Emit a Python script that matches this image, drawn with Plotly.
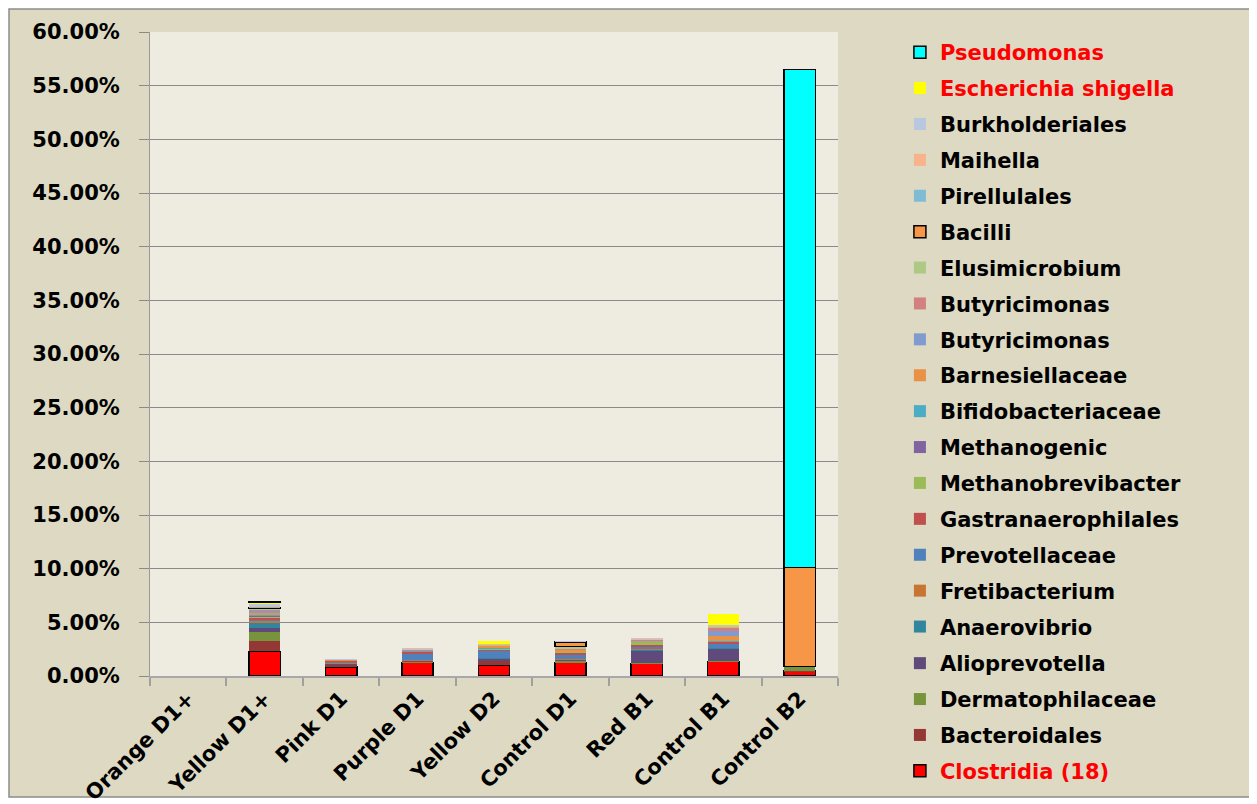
import plotly.graph_objects as go

# Sample names along the x axis
samples = [
    "Orange D1+", "Yellow D1+", "Pink D1", "Purple D1", "Yellow D2",
    "Control D1", "Red B1", "Control B1", "Control B2",
]

# Relative abundance (%) per taxon, stacked bottom -> top
clostridia = [0, 2.30, 0.84, 1.27, 1.00, 1.25, 1.18, 1.37, 0.45]
bacteroidales = [0, 1.00, 0.25, 0.00, 0.45, 0.05, 0.03, 0.02, 0.05]
dermatophilaceae = [0, 0.84, 0.02, 0.12, 0.03, 0.15, 0.03, 0.02, 0.35]
alioprevotella = [0, 0.37, 0.06, 0.05, 0.15, 0.05, 1.05, 1.18, 0.02]
anaerovibrio = [0, 0.50, 0.03, 0.05, 0.05, 0.03, 0.20, 0.03, 0]
fretibacterium = [0, 0.15, 0.02, 0.03, 0.03, 0.03, 0.02, 0.02, 0]
prevotellaceae = [0, 0.15, 0.15, 0.60, 0.68, 0.37, 0.20, 0.30, 0]
gastranaerophilales = [0, 0.12, 0.05, 0.12, 0.05, 0.30, 0.15, 0.25, 0]
methanobrevibacter = [0, 0.12, 0.02, 0.05, 0.08, 0.05, 0.33, 0.03, 0]
methanogenic = [0, 0.10, 0.01, 0.02, 0.02, 0.02, 0.02, 0.02, 0]
bifidobacteriaceae = [0, 0.12, 0.02, 0.05, 0.03, 0.02, 0.02, 0.02, 0]
barnesiellaceae = [0, 0.15, 0.04, 0.03, 0.25, 0.12, 0.12, 0.45, 0]
butyricimonas_blue = [0, 0.15, 0.01, 0.03, 0.03, 0.02, 0.02, 0.45, 0]
butyricimonas_pink = [0, 0.12, 0.01, 0.03, 0.03, 0.03, 0.02, 0.40, 0]
elusimicrobium = [0, 0.10, 0.01, 0.02, 0.07, 0.25, 0.03, 0.03, 0]
bacilli = [0, 0.05, 0, 0, 0, 0.45, 0, 0, 9.25]
pirellulales = [0, 0.12, 0.01, 0.04, 0.02, 0.02, 0.02, 0.02, 0]
maihella = [0, 0.12, 0.02, 0.02, 0.03, 0.02, 0.03, 0.05, 0]
burkholderiales = [0, 0.15, 0.01, 0.02, 0.02, 0.02, 0.03, 0.05, 0]
escherichia = [0, 0.10, 0, 0, 0.20, 0, 0, 1.08, 0]
pseudomonas = [0, 0.05, 0, 0, 0, 0, 0, 0, 46.40]

y_ticks = [0, 5, 10, 15, 20, 25, 30, 35, 40, 45, 50, 55, 60]

# (label, values, colour, outlined, red label)
series = [
    ("Clostridia (18)", clostridia, "#FF0000", True, True),
    ("Bacteroidales", bacteroidales, "#953735", False, False),
    ("Dermatophilaceae", dermatophilaceae, "#77933C", False, False),
    ("Alioprevotella", alioprevotella, "#604A7B", False, False),
    ("Anaerovibrio", anaerovibrio, "#31859C", False, False),
    ("Fretibacterium", fretibacterium, "#C87533", False, False),
    ("Prevotellaceae", prevotellaceae, "#4F81BD", False, False),
    ("Gastranaerophilales", gastranaerophilales, "#C0504D", False, False),
    ("Methanobrevibacter", methanobrevibacter, "#9BBB59", False, False),
    ("Methanogenic", methanogenic, "#8064A2", False, False),
    ("Bifidobacteriaceae", bifidobacteriaceae, "#4BACC6", False, False),
    ("Barnesiellaceae", barnesiellaceae, "#E99146", False, False),
    ("Butyricimonas", butyricimonas_blue, "#809BCF", False, False),
    ("Butyricimonas", butyricimonas_pink, "#D38080", False, False),
    ("Elusimicrobium", elusimicrobium, "#ADC983", False, False),
    ("Bacilli", bacilli, "#F79646", True, False),
    ("Pirellulales", pirellulales, "#7FBCD4", False, False),
    ("Maihella", maihella, "#F9B38A", False, False),
    ("Burkholderiales", burkholderiales, "#B9C7E0", False, False),
    ("Escherichia shigella", escherichia, "#FFFF00", False, True),
    ("Pseudomonas", pseudomonas, "#00FFFF", True, True),
]

FONT = "DejaVu Sans"
n = len(series)

# the page body adds an 8px offset, so the figure is sized to fit the window
W, H = 1249, 796
ML, MT, PW, PH = 142, 24, 688, 644

fig = go.Figure()
for idx, (label, values, color, outlined, red_label) in enumerate(series):
    name = f"<span style='color:#FF0000'>{label}</span>" if red_label else label
    # absent segments are left out so outlined series draw no empty boxes
    y = [v if v > 0 else None for v in values]
    fig.add_trace(
        go.Bar(
            x=samples,
            y=y,
            name=name,
            legendgroup=f"g{idx}",
            legendrank=n - idx,
            legend="legend" if idx >= 4 else "legend2",
            marker={
                "color": color,
                "line": {"color": "black", "width": 1.5 if outlined else 0},
            },
        )
    )

# outer frame and plot-area fill
fig.add_shape(
    type="rect", xref="paper", yref="paper", layer="below",
    x0=(1 - ML) / PW, x1=(1242 - ML) / PW,
    y0=1 - (789 - MT) / PH, y1=1 - (1 - MT) / PH,
    fillcolor="#DDD9C3", line={"color": "#8C8C8C", "width": 1.5},
)
fig.add_shape(
    type="rect", xref="paper", yref="paper", layer="below",
    x0=0, x1=1, y0=0, y1=1,
    fillcolor="#EEECE1", line={"width": 0},
)

legend_common = {
    "x": 1.09,
    "xanchor": "left",
    "yanchor": "top",
    "traceorder": "grouped",
    "tracegroupgap": 5.6,
    "bgcolor": "rgba(0,0,0,0)",
    "font": {"family": FONT, "size": 21, "weight": "bold", "color": "black"},
}

fig.update_layout(
    width=W,
    height=H,
    barmode="stack",
    bargap=0.59,
    paper_bgcolor="white",
    plot_bgcolor="rgba(0,0,0,0)",
    margin={"l": ML, "r": W - ML - PW, "t": MT, "b": H - MT - PH, "autoexpand": False},
    font={"family": FONT, "size": 21, "color": "black", "weight": "bold"},
    yaxis={
        "range": [0, 60],
        "tickvals": y_ticks,
        "ticktext": [f"{v:.2f}%" for v in y_ticks],
        "showgrid": True,
        "gridcolor": "#8A8A8A",
        "gridwidth": 1,
        "ticks": "outside",
        "ticklen": 10,
        "tickcolor": "#8A8A8A",
        "showline": True,
        "linecolor": "#9A9A9A",
        "linewidth": 1,
        "zeroline": False,
        "automargin": False,
        "ticklabelstandoff": 15,
        "tickfont": {"family": FONT, "size": 21, "weight": "bold"},
    },
    xaxis={
        "tickangle": -45,
        "tickson": "boundaries",
        "ticks": "outside",
        "ticklen": 8,
        "tickcolor": "#A0A0A0",
        "tickwidth": 2,
        "showline": True,
        "linecolor": "#A8A8A8",
        "linewidth": 2,
        "showgrid": False,
        "automargin": False,
        "tickfont": {"family": FONT, "size": 21, "weight": "bold"},
    },
    legend={**legend_common, "y": 1.0},
    legend2={**legend_common, "y": 1 - (643 - 32) / PH},
    showlegend=True,
)

fig.write_html("out.html")
